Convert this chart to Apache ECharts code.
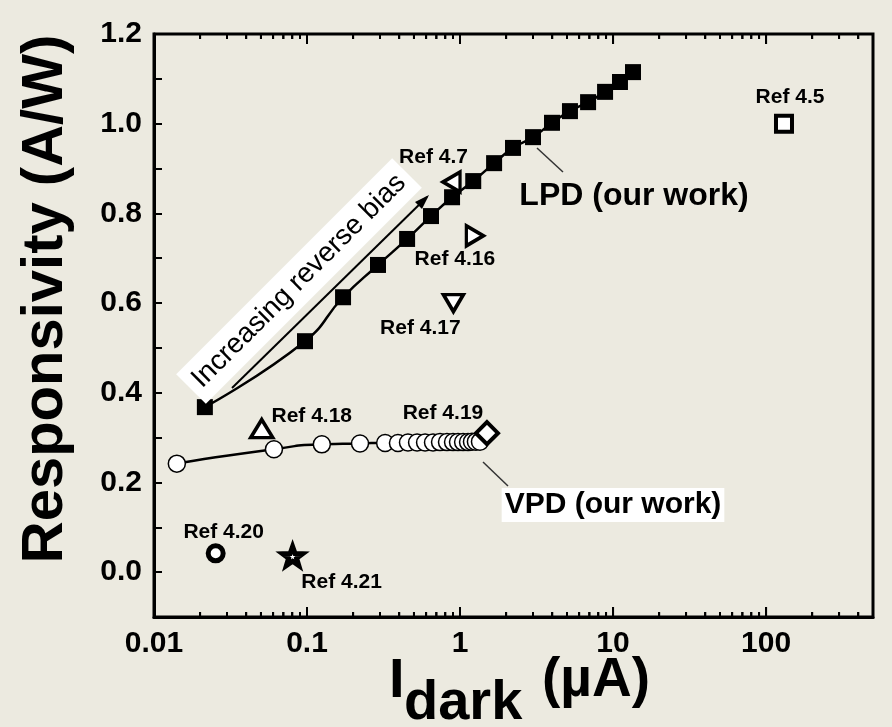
<!DOCTYPE html>
<html>
<head>
<meta charset="utf-8">
<script src="https://cdn.jsdelivr.net/npm/echarts@6/dist/echarts.min.js"></script>
<style>
  html, body { margin: 0; padding: 0; background: #ECEAE0; }
  #chart { width: 892px; height: 727px; }
</style>
</head>
<body>
<div id="chart"></div>
<script>
// Dark current (µA) vs responsivity (A/W)
const lpdX = [0.0215, 0.097, 0.172, 0.291, 0.451, 0.646, 0.887, 1.22, 1.67, 2.22, 3.00, 3.99, 5.23, 6.87, 8.87, 11.1, 13.5];
const lpdY = [0.368, 0.515, 0.613, 0.685, 0.743, 0.794, 0.836, 0.872, 0.912, 0.946, 0.970, 1.002, 1.028, 1.048, 1.071, 1.093, 1.115];

const vpdX = [0.0141, 0.0608, 0.125, 0.222, 0.324, 0.393, 0.457, 0.524, 0.591, 0.666, 0.740, 0.822, 0.900, 0.970, 1.047, 1.128, 1.197, 1.27, 1.35];
const vpdY = [0.242, 0.274, 0.285, 0.287, 0.288, 0.288, 0.289, 0.289, 0.289, 0.289, 0.290, 0.290, 0.290, 0.290, 0.290, 0.290, 0.291, 0.291, 0.291];

const refNames = ['Ref 4.5', 'Ref 4.7', 'Ref 4.16', 'Ref 4.17', 'Ref 4.18', 'Ref 4.19', 'Ref 4.20', 'Ref 4.21'];
const refX = [131, 0.88, 1.25, 0.905, 0.0506, 1.50, 0.0253, 0.0805];
const refY = [1.00, 0.87, 0.75, 0.60, 0.32, 0.31, 0.042, 0.036];

const xTickLabels = ['0.01', '0.1', '1', '10', '100'];
const yTickLabels = ['0.0', '0.2', '0.4', '0.6', '0.8', '1.0', '1.2'];

const X_MIN = 0.01, X_MAX = 500, Y_MIN = -0.1, Y_MAX = 1.2;
const FONT = '"Liberation Sans", Arial, sans-serif';

// marker look for each reference point
const STAR = 'path://M0,-10L2.35,-3.24L9.51,-3.09L3.8,1.24L5.88,8.09L0,4L-5.88,8.09L-3.8,1.24L-9.51,-3.09L-2.35,-3.24Z';
const refStyle = {
  'Ref 4.5':  { symbol: 'rect', size: 16, rotate: 0, bw: 4, off: [6, -26] },
  'Ref 4.7':  { symbol: 'triangle', size: [20, 17], rotate: 90, bw: 3.5, off: [-18, -25] },
  'Ref 4.16': { symbol: 'triangle', size: [20, 17], rotate: -90, bw: 3.5, off: [-20, 23] },
  'Ref 4.17': { symbol: 'triangle', size: [20, 17], rotate: 180, bw: 3.5, off: [-33, 25] },
  'Ref 4.18': { symbol: 'triangle', size: [22, 18], rotate: 0, bw: 3.5, off: [50, -12] },
  'Ref 4.19': { symbol: 'diamond', size: 22, rotate: 0, bw: 4, off: [-44, -20] },
  'Ref 4.20': { symbol: 'circle', size: 15, rotate: 0, bw: 5, off: [8, -21] },
  'Ref 4.21': { symbol: STAR, size: 20, rotate: 0, bw: 5, off: [49, 26] }
};

// tick positions on the log axis: decades and the 2..9 steps between them
const majorTicks = xTickLabels.map(Number);
const minorTicks = [];
for (let e = -2; e <= 2; e++) {
  for (let m = 2; m <= 9; m++) {
    const v = m * Math.pow(10, e);
    if (v < X_MAX) minorTicks.push(+v.toPrecision(3));
  }
}

const pairs = (xs, ys) => xs.map((x, i) => [x, ys[i]]);

const chart = echarts.init(document.getElementById('chart'));

const tickLabelStyle = { color: '#000', fontFamily: FONT, fontWeight: 'bold', fontSize: 30 };

const baseGraphic = [
  // y axis title
  {
    type: 'text', x: 46, y: 299, rotation: Math.PI / 2, z: 10,
    style: { text: 'Responsivity (A/W)', font: 'bold 58px ' + FONT, fill: '#000', align: 'center', verticalAlign: 'middle' }
  },
  // x axis title: I_dark (µA)
  { type: 'text', x: 389, y: 682, z: 10,
    style: { text: 'I', font: 'bold 56px ' + FONT, fill: '#000', align: 'left', verticalAlign: 'middle' } },
  { type: 'text', x: 404, y: 704, z: 10,
    style: { text: 'dark', font: 'bold 56px ' + FONT, fill: '#000', align: 'left', verticalAlign: 'middle' } },
  { type: 'text', x: 542, y: 681, z: 10,
    style: { text: '(µA)', font: 'bold 55px ' + FONT, fill: '#000', align: 'left', verticalAlign: 'middle' } },
  // series annotations
  { type: 'text', x: 634, y: 196, z: 10,
    style: { text: 'LPD (our work)', font: 'bold 32px ' + FONT, fill: '#000', align: 'center', verticalAlign: 'middle' } },
  { type: 'line', z: 10, shape: { x1: 537, y1: 148, x2: 563, y2: 172 }, style: { stroke: '#333', lineWidth: 1.5 } },
  { type: 'text', x: 613, y: 505, z: 10,
    style: { text: 'VPD (our work)', font: 'bold 30px ' + FONT, fill: '#000', align: 'center', verticalAlign: 'middle',
             backgroundColor: '#fff', padding: [2, 3] } },
  { type: 'line', z: 10, shape: { x1: 483, y1: 462, x2: 508, y2: 486 }, style: { stroke: '#333', lineWidth: 1.5 } },
  // bias direction arrow
  { type: 'text', x: 299, y: 281, rotation: Math.PI / 4, z: 9,
    style: { text: 'Increasing reverse bias', font: '28px ' + FONT, fill: '#000', align: 'center', verticalAlign: 'middle',
             backgroundColor: '#fff', padding: [7, 8] } },
  { type: 'line', z: 10, shape: { x1: 232, y1: 388, x2: 427, y2: 197 }, style: { stroke: '#000', lineWidth: 2 } },
  { type: 'polygon', z: 10, shape: { points: [[429, 195], [415, 202], [422, 209]] }, style: { fill: '#000' } }
];

const option = {
  backgroundColor: '#ECEAE0',
  animation: false,
  grid: { left: 154, top: 34, right: 19, bottom: 110, show: true, borderColor: '#000', borderWidth: 3 },
  xAxis: {
    type: 'log', logBase: 10, min: X_MIN, max: X_MAX,
    axisLine: { show: true, onZero: false, lineStyle: { color: '#000', width: 3 } },
    axisTick: { show: true, inside: true, length: 10, lineStyle: { color: '#000', width: 2 } },
    axisLabel: Object.assign({ margin: 12, showMaxLabel: false }, tickLabelStyle),
    splitLine: { show: false }
  },
  yAxis: {
    type: 'value', min: Y_MIN, max: Y_MAX, interval: 0.1,
    axisLine: { show: true, onZero: false, lineStyle: { color: '#000', width: 3 } },
    axisTick: { show: true, inside: true, length: 8, lineStyle: { color: '#000', width: 2 } },
    axisLabel: Object.assign({
      margin: 12,
      formatter: v => {
        const s = Number(v).toFixed(1);
        return yTickLabels.indexOf(s) >= 0 ? s : '';
      }
    }, tickLabelStyle),
    splitLine: { show: false }
  },
  series: [
    {
      name: 'LPD', type: 'line', data: pairs(lpdX, lpdY), smooth: 0.5,
      symbol: 'rect', symbolSize: 16,
      itemStyle: { color: '#000' },
      lineStyle: { color: '#000', width: 2.5 },
      z: 5
    },
    {
      name: 'VPD', type: 'line', data: pairs(vpdX, vpdY), smooth: 0.7,
      symbol: 'circle', symbolSize: 17,
      itemStyle: { color: '#fff', borderColor: '#000', borderWidth: 1.5 },
      lineStyle: { color: '#000', width: 2.5 },
      z: 5
    },
    {
      name: 'Refs', type: 'scatter', z: 6,
      data: refNames.map((n, i) => {
        const s = refStyle[n];
        return {
          name: n, value: [refX[i], refY[i]],
          symbol: s.symbol, symbolSize: s.size, symbolRotate: s.rotate, symbolKeepAspect: s.symbol === STAR,
          itemStyle: { color: '#fff', borderColor: '#000', borderWidth: s.bw, opacity: 1 },
          label: {
            show: true, position: 'inside', offset: s.off, formatter: '{b}',
            color: '#000', fontFamily: FONT, fontWeight: 'bold', fontSize: 21,
            textBorderWidth: 0, textBorderColor: 'transparent'
          }
        };
      })
    }
  ]
};

chart.setOption(option);

// inward frame ticks on the bottom and top edges, positioned by the log axis
const toPx = (v, y) => chart.convertToPixel({ xAxisIndex: 0, yAxisIndex: 0 }, [v, y]);
const tickShapes = [];
function addTicks(values, len) {
  values.forEach(v => {
    const b = toPx(v, Y_MIN), t = toPx(v, Y_MAX);
    tickShapes.push({ x1: b[0], y1: b[1], x2: b[0], y2: b[1] - len });
    tickShapes.push({ x1: t[0], y1: t[1], x2: t[0], y2: t[1] + len });
  });
}
addTicks(majorTicks, 10);
addTicks(minorTicks, 5);

const tickMarks = tickShapes.map(s => ({ type: 'line', z: 50, shape: s, style: { stroke: '#000', lineWidth: 2 } }));
chart.setOption({ graphic: baseGraphic.concat(tickMarks) });

// the same ticks also go straight onto the render surface
const zr = chart.getZr();
tickShapes.forEach(s => {
  zr.add(new echarts.graphic.Line({ z: 100, shape: s, style: { stroke: '#000', lineWidth: 2 } }));
});
</script>
</body>
</html>
